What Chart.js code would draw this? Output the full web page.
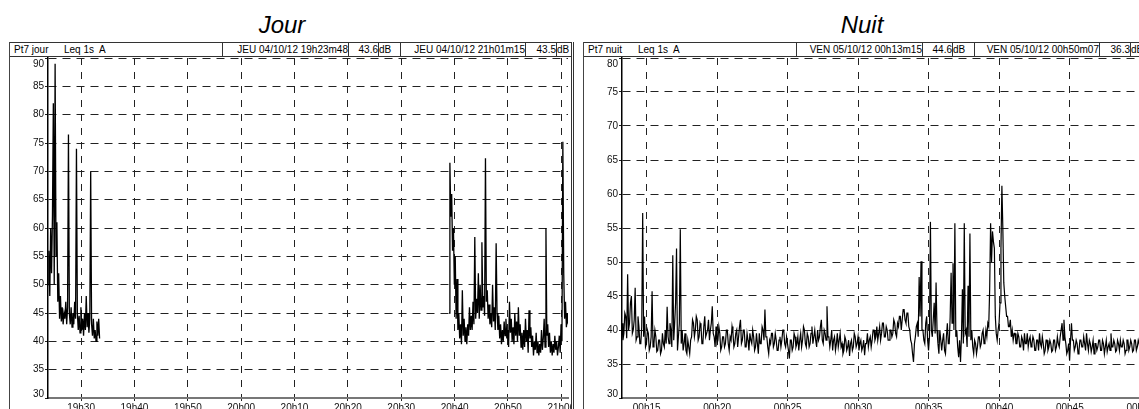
<!DOCTYPE html>
<html lang="fr">
<head>
<meta charset="UTF-8" />
<title>Pt7 jour / nuit - Leq 1s A</title>
<script src="https://cdn.jsdelivr.net/npm/chart.js"></script>
<style>
  html, body { margin: 0; padding: 0; background: #fff; width: 1139px; height: 409px; overflow: hidden; font-family: 'Liberation Sans', Arial, sans-serif; }
  .title { position: absolute; top: 13px; width: 200px; height: 24px; line-height: 24px; font-size: 24px; font-style: italic; text-align: center; color: #000; }
  .panel { position: absolute; top: 42px; width: 561px; height: 380px; border-left: 1px solid #444; border-right: 3px double #333; }
  .head { position: absolute; left: 0; top: 0; width: 100%; height: 13px; border-top: 1px solid #333; border-bottom: 1px solid #333; font-size: 10px; color: #000; }
  .head span { position: absolute; top: 0; line-height: 13px; white-space: nowrap; }
  .head i { position: absolute; top: 0; width: 1px; height: 13px; background: #333; }
  canvas { position: absolute; top: 56px; }
</style>
</head>
<body>
  <div class="title" style="left:182px">Jour</div>
  <div class="title" style="left:762px">Nuit</div>

  <div class="panel" style="left:9px">
    <div class="head">
      <span style="left:4px">Pt7 jour</span>
      <span style="left:54px">Leq 1s&nbsp; A</span>
      <i style="left:212px"></i>
      <span style="right:223px">JEU 04/10/12 19h23m48</span>
      <i style="left:338px"></i>
      <span style="right:193px">43.6</span>
      <i style="left:368px"></i>
      <span style="left:369px">dB</span>
      <i style="left:390px"></i>
      <span style="right:46px">JEU 04/10/12 21h01m15</span>
      <i style="left:515px"></i>
      <span style="right:15px">43.5</span>
      <i style="left:546px"></i>
      <span style="left:547px">dB</span>
    </div>
  </div>

  <div class="panel" style="left:583px">
    <div class="head">
      <span style="left:4px">Pt7 nuit</span>
      <span style="left:54px">Leq 1s&nbsp; A</span>
      <i style="left:212px"></i>
      <span style="right:223px">VEN 05/10/12 00h13m15</span>
      <i style="left:338px"></i>
      <span style="right:193px">44.6</span>
      <i style="left:368px"></i>
      <span style="left:369px">dB</span>
      <i style="left:390px"></i>
      <span style="right:46px">VEN 05/10/12 00h50m07</span>
      <i style="left:515px"></i>
      <span style="right:15px">36.3</span>
      <i style="left:546px"></i>
      <span style="left:547px">dB</span>
    </div>
  </div>

  <canvas id="jourChart" width="562" height="353" style="left:9px"></canvas>
  <canvas id="nuitChart" width="562" height="353" style="left:583px"></canvas>

<script>
  // times are in minutes since midnight, levels in dB(A)

  // --- Jour: one sample every 10 s, two recorded stretches
  const jourStep = 10 / 60;
  const jourMin = 19 * 60 + 23 + 48 / 60;   // 19h23m48
  const jourMax = 21 * 60 + 1 + 15 / 60;    // 21h01m15
  const jourStart1 = jourMin;
  const jourSeg1 = [
    50, 56, 48, 60, 52, 62, 82, 50, 89, 55,
    61, 47, 52, 44, 48, 43.5, 46, 43, 45, 44,
    47, 43, 46, 76.5, 45, 43, 46, 42.5, 45, 43,
    47, 44, 74, 45, 42, 44.5, 41.5, 46, 42, 44,
    41, 45, 42, 48, 42.5, 45, 41.5, 44, 70, 43,
    41, 44, 40.5, 42, 40, 43.5, 41, 44, 40.5
  ];
  const jourStart2 = 20 * 60 + 38 + 57 / 60;
  const jourSeg2 = [
    45, 71.5, 62, 66, 56, 60, 50, 55, 44, 51,
    42, 45, 40.5, 43, 39.5, 49, 41, 44, 40, 42.5,
    39.5, 43, 41, 46, 42, 44.5, 42, 47, 43, 58.4,
    44, 47.5, 45, 52, 44, 50, 45.5, 57.5, 46, 48,
    44.5, 72.3, 47, 49, 44, 46.5, 43, 45, 42.5, 50,
    43.5, 46, 42, 57.3, 45, 42, 44.5, 40.5, 43, 39.5,
    42, 40, 43.5, 41, 44, 40.5, 42, 39, 47, 41.5,
    44, 40, 42.5, 39.5, 45, 41, 43.5, 40, 46, 41,
    43, 39, 41.5, 38.5, 42, 39, 44, 40, 42, 38,
    45.5, 40.5, 42.5, 39, 41, 37.5, 40, 38.5, 41.5, 38,
    40, 37.5, 39.5, 38, 42, 38.5, 40.5, 44, 39, 60,
    41, 43, 39, 41.5, 38, 40, 37.5, 39.5, 38, 41,
    38.5, 40, 37.5, 39, 41, 38, 43, 40, 75.2, 52,
    44, 47, 42.5, 45, 43
  ];
  const jourXTicks = [1170, 1180, 1190, 1200, 1210, 1220, 1230, 1240, 1250, 1260];
  const jourYTicks = [30, 35, 40, 45, 50, 55, 60, 65, 70, 75, 80, 85, 90];

  // --- Nuit: one sample every 4 s
  const nuitStep = 4 / 60;
  const nuitMin = 13 + 15 / 60;             // 00h13m15
  const nuitMax = 50 + 7 / 60;              // 00h50m07
  const nuitValues = [
    41, 38.5, 39.5, 42.5, 42, 38.8, 48.2, 40, 41, 44, 45, 39.5, 40, 41.5, 46.2, 38.5, 39, 42, 40.5, 38,
    38, 40.5, 57.2, 39, 42, 37.5, 38, 40, 39.5, 37, 37.5, 39, 45.7, 37.5, 38, 40, 39, 36.8, 37, 38.5,
    38.5, 36.5, 37, 39.5, 38, 37.5, 40, 38, 43.4, 39, 38, 41, 40, 37.5, 51, 38.5, 41, 44, 52, 37,
    39, 41, 54.8, 38, 40, 37, 38, 39.5, 37, 36.5, 38.5, 37.5, 36.5, 38.5, 39, 41.5, 41, 39, 40, 42,
    41.5, 38.5, 39, 41, 40.5, 38, 38, 40.5, 42, 39, 39.5, 40, 41.5, 38.5, 40, 41, 43.5, 39.5, 39, 37.5,
    40.5, 38, 38.5, 40.5, 39.5, 37, 37.5, 39, 39, 37.5, 38, 40, 40, 38, 37, 39, 38.5, 40.5, 39.5, 37.5,
    38, 39.5, 40, 37.5, 39, 40.5, 41.5, 38, 38.5, 40, 40, 37.5, 37.5, 39.5, 38.5, 37, 39.5, 38.5, 38, 40,
    39, 37, 37.5, 39.5, 38, 36.5, 39.5, 38, 38, 40.5, 40, 38.5, 43, 39, 39, 37.5, 36.5, 38.5, 38, 39.5,
    39.5, 37.5, 38, 39.5, 38.5, 37, 37, 38.5, 39, 37.5, 38.5, 40, 40, 38, 37.5, 39, 38, 37, 35.8, 38.5,
    38.5, 37, 37.5, 39.5, 39, 37.5, 38, 39, 37, 38.5, 39.5, 37.5, 38.5, 40.5, 40, 38, 37.5, 39.5, 39, 37.5,
    38, 39.5, 40.5, 38, 39, 40, 38.5, 37.5, 40, 38.5, 39, 40.5, 41.5, 38.5, 38, 40, 39.5, 38.5, 43.5, 39,
    39, 37.5, 38.5, 40, 37, 38.5, 39, 37, 38, 39.5, 37.5, 38.5, 39.5, 37.5, 38, 36.5, 37, 39, 38.5, 37,
    37.5, 38.5, 36.2, 38, 38.5, 37, 37.5, 39.5, 39, 37.5, 38, 39, 37, 38, 38.5, 37, 37.5, 38.5, 36.3, 38,
    38, 39.5, 37.5, 38.5, 39, 37.5, 38.5, 40, 40, 38.5, 39, 40.5, 38.5, 39.5, 40.5, 38.5, 39.5, 41, 41, 39,
    39, 40.5, 40, 38.5, 38.5, 40, 40, 39, 39.5, 41.5, 41, 39.5, 39, 41, 40.5, 42, 42, 40, 41.5, 43,
    43, 41.5, 41, 42.5, 42.5, 40.5, 40, 38.5, 38, 36.5, 35.3, 38, 39, 40.5, 41, 39, 47.8, 42, 50.1, 40,
    40, 38.5, 38, 41, 42, 38.5, 37, 39, 55.9, 40, 39, 41.5, 44, 39.5, 47, 40, 38, 36.5, 40, 38.5,
    37, 38.5, 39.5, 37, 36.5, 39, 41, 38, 38, 42, 48.4, 41, 49.8, 40, 55.7, 39, 40, 37.5, 36, 38.5,
    35.3, 39, 46, 38, 55.7, 39.5, 40, 37.5, 46.5, 39, 54.2, 38.5, 40, 37.5, 36.5, 38.5, 38, 36.5, 37.5, 39,
    39, 37.5, 38, 39.5, 40, 38, 38.5, 40, 39, 41, 40.5, 46, 55.7, 50, 54.5, 53, 52, 42, 39.5, 38.5,
    40, 41, 44, 52, 61.2, 55, 47, 45, 43.5, 42, 42, 40.5, 40.5, 41.5, 39, 40, 38.5, 39.5, 39.5, 38,
    38, 39.5, 39, 37.5, 37.5, 39, 38.5, 37, 39.5, 38, 38, 39.5, 37.5, 38.5, 39, 37.5, 38, 39, 38.5, 37,
    37, 38.5, 38.5, 37, 39.5, 38, 37.5, 39, 38, 36.5, 37, 38.5, 38.5, 37, 37.5, 38.5, 38, 36.8, 37, 38.5,
    38.5, 37, 37.5, 39, 38, 37.5, 39, 40, 41, 38.5, 41.5, 39, 38, 36.5, 37, 38, 35.5, 38.5, 41, 38.5,
    38.5, 37, 37.5, 38.5, 38, 36.5, 37, 38.5, 38.5, 37.5, 37.5, 39, 38, 37, 39.5, 38, 37, 38.5, 38, 36.8,
    37.5, 38.5, 36.5, 38, 38, 37, 37.5, 38.5, 38.5, 37, 37, 38.5, 38, 36.5, 37.5, 38.5, 36.8, 37.5, 38, 37,
    39.5, 37.5, 37.5, 38.5, 38, 36.8, 37, 38.5, 38, 37, 38.5, 37.5, 37.5, 38.5, 38, 36.5, 37, 38.5, 38.5, 37,
    37.5, 38.5, 38, 36.8, 37, 38.5, 38.5, 37, 37.5, 38.5, 38, 37, 37
  ];
  const nuitXTicks = [15, 20, 25, 30, 35, 40, 45, 50];
  const nuitYTicks = [30, 35, 40, 45, 50, 55, 60, 65, 70, 75, 80];

  const FONT = { family: "'Liberation Sans', Arial, sans-serif", size: 10 };

  function toPoints(start, step, values) {
    return values.map((v, i) => ({ x: start + i * step, y: v }));
  }

  function hhmm(m) {
    const h = Math.floor(m / 60), mm = Math.round(m % 60);
    return String(h).padStart(2, '0') + 'h' + String(mm).padStart(2, '0');
  }

  function trace(points, width) {
    return { data: points, borderColor: '#000', borderWidth: width, pointRadius: 0, tension: 0, spanGaps: false };
  }

  // the end labels of the level axis sit inside the plot, like the original printout
  const edgeLabels = {
    id: 'edgeLabels',
    afterDraw(chart) {
      const y = chart.scales.y, ctx = chart.ctx;
      ctx.save();
      ctx.font = "10px 'Liberation Sans', Arial, sans-serif";
      ctx.fillStyle = '#111';
      ctx.textAlign = 'right';
      const x = y.right - 4;
      ctx.textBaseline = 'top';
      ctx.fillText(String(y.max), x, y.getPixelForValue(y.max) + 1);
      ctx.textBaseline = 'bottom';
      ctx.fillText(String(y.min), x, y.getPixelForValue(y.min) + 1);
      ctx.restore();
    }
  };

  function makeChart(id, datasets, xMin, xMax, xTicks, yTicks) {
    return new Chart(document.getElementById(id), {
      type: 'line',
      data: { datasets },
      plugins: [edgeLabels],
      options: {
        animation: false,
        responsive: false,
        devicePixelRatio: 1,
        layout: { padding: { top: 2, right: 3, bottom: 0, left: 0 } },
        plugins: { legend: { display: false }, tooltip: { enabled: false } },
        scales: {
          x: {
            type: 'linear', min: xMin, max: xMax,
            afterBuildTicks: s => { s.ticks = xTicks.map(v => ({ value: v })); },
            afterFit: s => { s.height = 11; s.paddingLeft = 0; s.paddingRight = 0; },
            ticks: { callback: v => hhmm(v), font: FONT, color: '#111', padding: 1, maxRotation: 0, autoSkip: false },
            grid: { color: '#222', lineWidth: 1, tickLength: 3, tickColor: '#222' },
            border: { color: '#777', width: 2, dash: [7, 7] }
          },
          y: {
            type: 'linear', min: yTicks[0], max: yTicks[yTicks.length - 1],
            afterBuildTicks: s => { s.ticks = yTicks.map(v => ({ value: v })); },
            afterFit: s => { s.width = 39; s.paddingTop = 0; s.paddingBottom = 0; },
            ticks: {
              callback: (v, i, arr) => (i === 0 || i === arr.length - 1) ? '' : v,
              font: FONT, color: '#111', padding: 1, autoSkip: false
            },
            grid: { color: '#222', lineWidth: 1, tickLength: 3, tickColor: '#222' },
            border: { color: '#000', width: 1.5, dash: [8, 6] }
          }
        }
      }
    });
  }

  makeChart('jourChart', [
    trace(toPoints(jourStart1, jourStep, jourSeg1), 1.3),
    trace(toPoints(jourStart2, jourStep, jourSeg2), 1.3)
  ], jourMin, jourMax, jourXTicks, jourYTicks);

  makeChart('nuitChart', [
    trace(toPoints(nuitMin, nuitStep, nuitValues), 1.2)
  ], nuitMin, nuitMax, nuitXTicks, nuitYTicks);
</script>
</body>
</html>
